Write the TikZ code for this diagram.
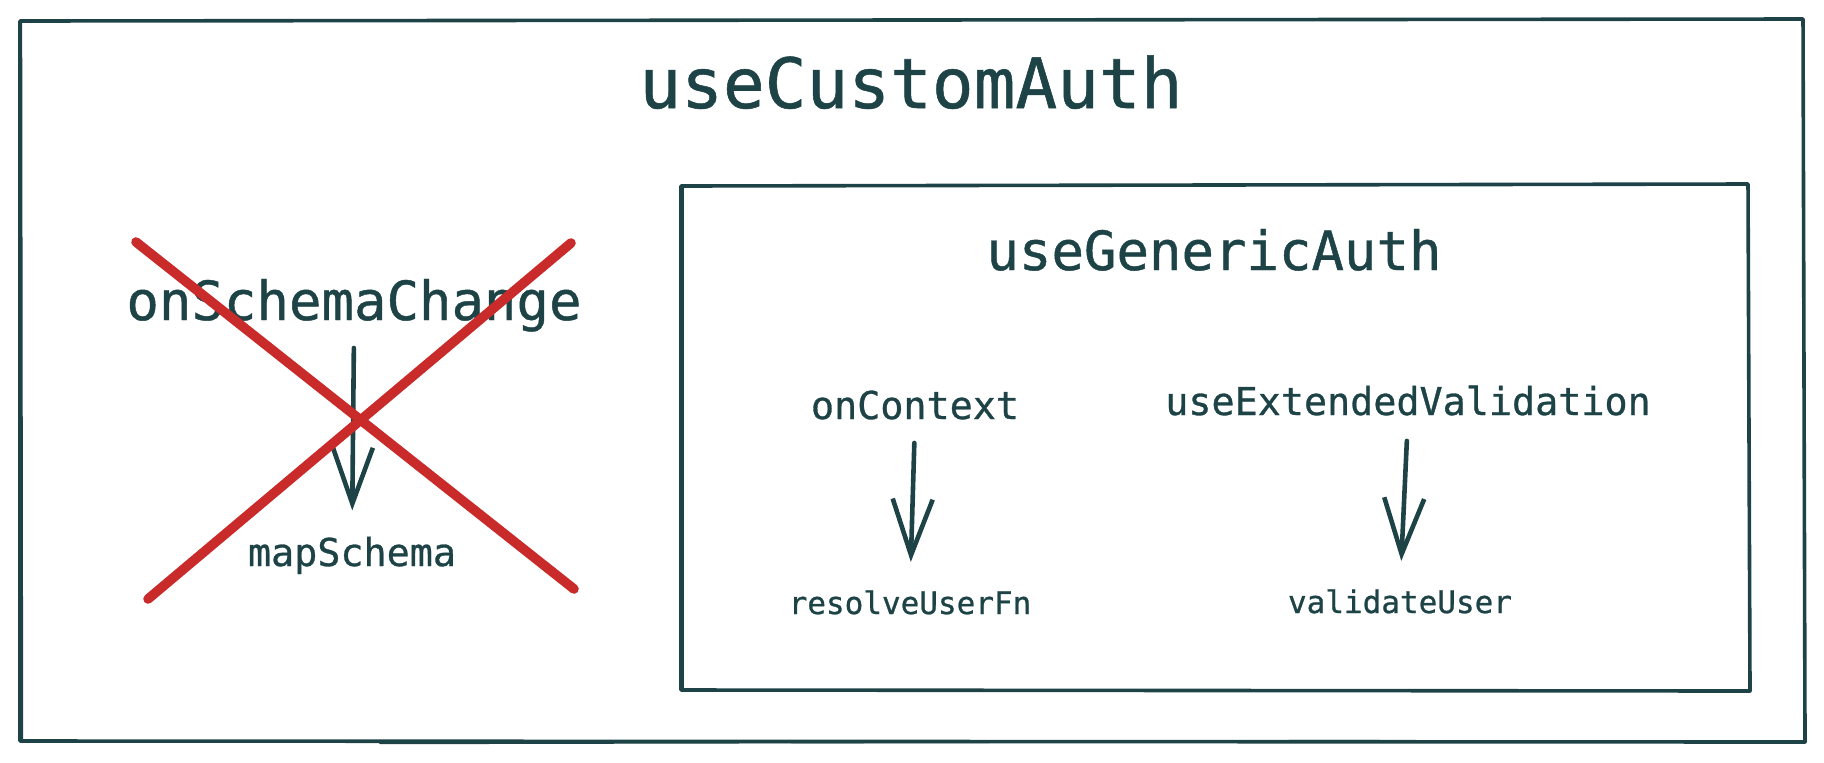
\documentclass[tikz,border=0pt]{standalone}
\usepackage{fontspec}
\setmonofont[FakeBold=0.8]{DejaVu Sans Mono}
\usetikzlibrary{arrows.meta}
\definecolor{ink}{HTML}{1E4346}
\definecolor{crossred}{HTML}{C92A2A}
\tikzset{
  frame/.style={draw=ink, line width=1.8pt, line cap=round, line join=round},
  lbl/.style={text=ink, inner sep=0pt, anchor=base, font=\ttfamily},
  big/.style={lbl, font=\ttfamily\fontsize{34.7}{40}\selectfont},
  mid/.style={lbl, font=\ttfamily\fontsize{27}{32}\selectfont},
  small/.style={lbl, font=\ttfamily\fontsize{19.2}{23}\selectfont},
  tiny/.style={lbl, font=\ttfamily\fontsize{15.5}{19}\selectfont},
  arr/.style={draw=ink, line width=2.3pt, line cap=round,
    -{Straight Barb[length=28pt, width=20pt, line width=2.3pt]}},
  cross/.style={draw=crossred, line width=4.8pt, line cap=round}
}
\begin{document}
\begin{tikzpicture}[x=0.5pt, y=-0.5pt]
\path[use as bounding box] (0,0) rectangle (1824,762);
% outer box (hand-drawn look)
\draw[frame] (20,21) -- (1803,19) -- (1805,742) -- (20,741) -- cycle;
\draw[frame, line width=1.2pt] (380,743) -- (1380,741);
\draw[frame, line width=1.2pt] (21,22) -- (22,740);
% inner box
\draw[frame] (681,186) -- (1748,184) -- (1750,691) -- (681,690) -- cycle;
\draw[frame, line width=1.2pt] (683,188) -- (683,688);
% labels
\node[big] (custom) at (911,108) {useCustomAuth};
\node[mid] (generic) at (1214,270) {useGenericAuth};
\node[mid] (osc) at (354,320) {onSchemaChange};
\node[small] (map) at (352,566) {mapSchema};
\node[small] (ctx) at (915,419) {onContext};
\node[small] (uev) at (1408,415) {useExtendedValidation};
\node[tiny] (ruf) at (910,614) {resolveUserFn};
\node[tiny] (vu) at (1400,613) {validateUser};
% arrows
\draw[arr, shorten <=8pt, shorten >=13pt] (osc.south) -- (map.north);
\draw[arr, shorten <=11.5pt, shorten >=14pt] (ctx.south) -- (ruf.north);
\draw[arr, shorten <=12.5pt, shorten >=14pt] (uev.south) -- (vu.north);
% red cross
\coordinate (c1) at (136,242);
\coordinate (c2) at (574,589);
\coordinate (c3) at (148,599);
\coordinate (c4) at (571,243);
\draw[cross] (c1) -- (c2);
\draw[cross] (c3) -- (c4);
\end{tikzpicture}
\end{document}
